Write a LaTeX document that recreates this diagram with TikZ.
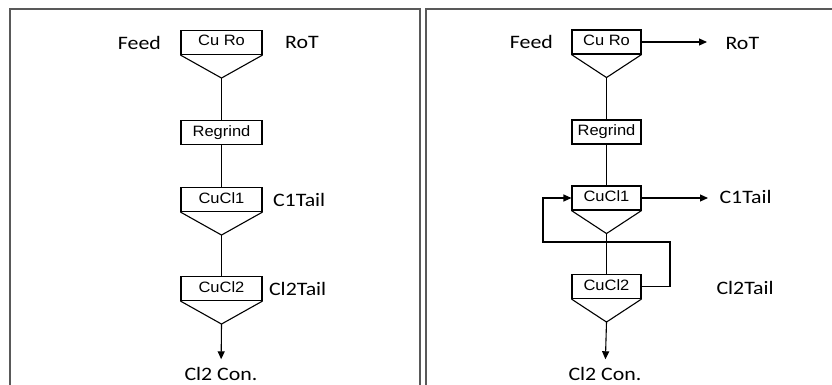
\documentclass[tikz,border=0pt]{standalone}
\usepackage{fontspec}
\newfontfamily\boxfam[FakeStretch=1.1]{Liberation Sans}
\newfontfamily\labfam[FakeStretch=1.15]{Carlito}
\usetikzlibrary{positioning,arrows.meta,calc}

\begin{document}
\begin{tikzpicture}[x=1pt,y=-1pt,line width=1.1pt,>={Triangle[length=8pt,width=7pt]}]
  \tikzstyle{cell}=[draw,minimum width=81pt,minimum height=24pt,inner sep=0pt,text height=11pt,text depth=4pt,font=\boxfam\fontsize{15}{16}\selectfont]
  \tikzstyle{narrow}=[cell,minimum width=69pt]
  \tikzstyle{lab}=[inner sep=1pt,font=\labfam\fontsize{19}{21}\selectfont]
  \tikzstyle{panel}=[draw=black!65,line width=2pt]
  \useasboundingbox (0,0) rectangle (832,385);
  % frames
  \draw[panel] (10,385) -- (10,9) -- (420,9) -- (420,385);
  \draw[panel] (426,385) -- (426,9) -- (832,9);
  % left circuit
  \node[cell] (cur1) at (221.5,42.5) {Cu Ro};
  \node[cell] (reg1) at (221.5,132.5) {Regrind};
  \node[cell] (cl1a) at (221.5,199.5) {CuCl1};
  \node[cell] (cl2a) at (221.5,288.5) {CuCl2};
  \node[lab] (feed1) [left=18pt of cur1] {Feed};
  \node[lab] (rot1) [right=21pt of cur1] {RoT};
  \node[lab] (tail1a) [right=9pt of cl1a] {C1Tail};
  \node[lab] (tail2a) [right=5pt of cl2a] {Cl2Tail};
  \node[lab] (con1) at (221,373.5) {Cl2 Con.};
  % right circuit
  \node[narrow] (cur2) at (606.5,42) {Cu Ro};
  \node[narrow] (reg2) at (606.5,132) {Regrind};
  \node[narrow] (cl1b) at (606.5,198) {CuCl1};
  \node[narrow] (cl2b) at (606.5,286.5) {CuCl2};
  \node[lab] (feed2) [left=17pt of cur2] {Feed};
  \node[lab, anchor=west] (rot2) at (724,43) {RoT};
  \node[lab, anchor=west] (tail1b) at (718,197) {C1Tail};
  \node[lab, anchor=west] (tail2b) at (715,288) {Cl2Tail};
  \node[lab] (con2) at (605,373.5) {Cl2 Con.};
  \coordinate (fbR) at (670,242);
  \coordinate (fbL) at (543,242);
  % cones under the cells
  \foreach \b/\a in {cur1/ap1,cl1a/ap2,cl2a/ap3,cur2/ap4,cl1b/ap5,cl2b/ap6}
    \draw (\b.south west) -- ($(\b.south)+(0,23)$) coordinate (\a) -- (\b.south east);
  % flows
  \draw (ap1) -- (reg1);
  \draw (reg1) -- (cl1a);
  \draw (ap2) -- (cl2a);
  \draw[->,shorten >=6pt] (ap3) -- (con1);
  \draw (ap4) -- (reg2);
  \draw (reg2) -- (cl1b);
  \draw (ap5) -- (cl2b);
  \draw[->,shorten >=6pt] (ap6) -- (con2);
  \draw[->] (cur2.east) -- ($(cur2.east -| rot2.west)+(-17,0)$);
  \draw[->] (cl1b.east) -- ($(cl1b.east -| tail1b.west)+(-10,0)$);
  \draw[->] (cl2b.east) -| (fbR) -- (fbL) |- (cl1b.west);
\end{tikzpicture}
\end{document}
